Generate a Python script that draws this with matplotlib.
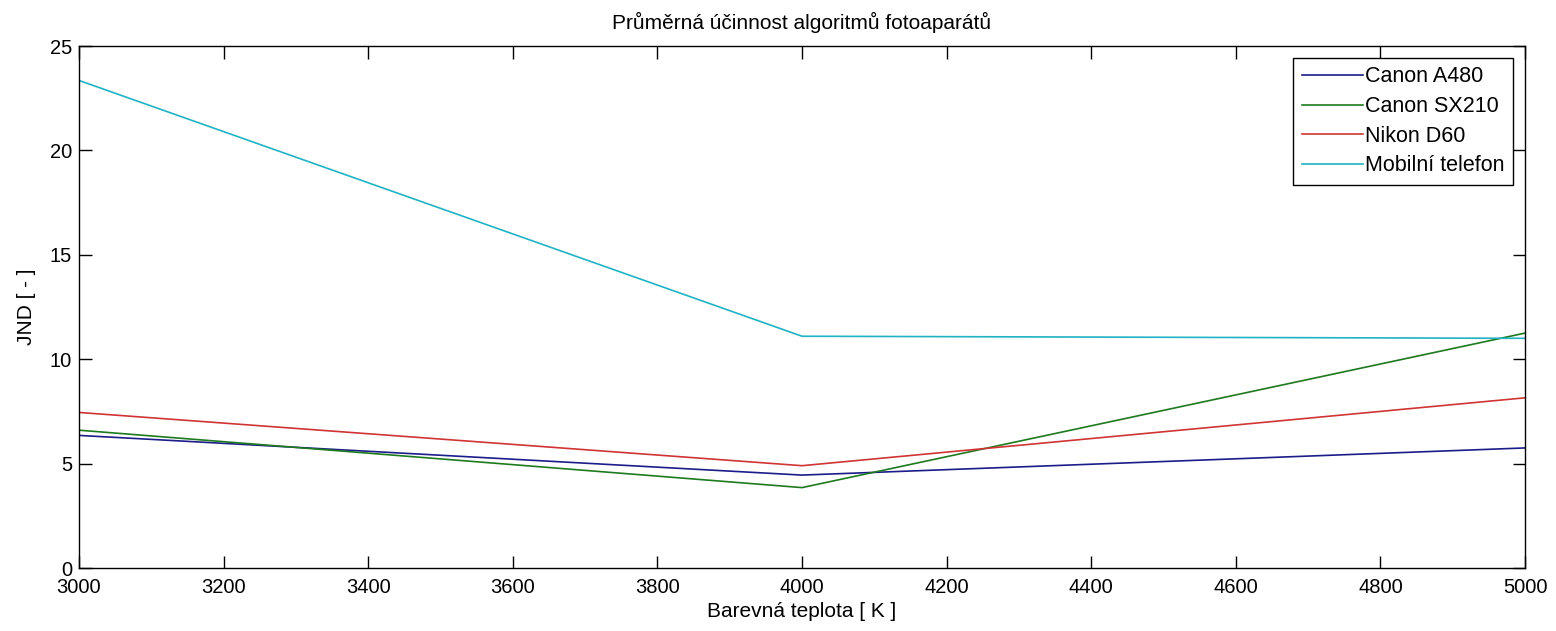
# Průměrná účinnost algoritmů fotoaparátů

import matplotlib
matplotlib.use("Agg")
import matplotlib.pyplot as plt

# Data
teplota = [3000, 4000, 5000]
canon_a480 = [6.35, 4.45, 5.75]
canon_sx210 = [6.6, 3.85, 11.25]
nikon_d60 = [7.45, 4.9, 8.15]
mobil = [23.35, 11.1, 11.0]

nazvy = ["Canon A480", "Canon SX210", "Nikon D60", "Mobilní telefon"]
barvy = ["#1c1c8a", "#1e7a1e", "#d03434", "#1fb3c4"]

plt.rcParams['font.family'] = ['Liberation Sans', 'DejaVu Sans']

fig = plt.figure(figsize=(15.56, 6.31), dpi=100)
ax = fig.add_axes([79 / 1556, 63 / 631, (1525 - 79) / 1556, (568 - 46) / 631])

for y, nazev, barva in zip([canon_a480, canon_sx210, nikon_d60, mobil], nazvy, barvy):
    ax.plot(teplota, y, color=barva, linewidth=1.2, label=nazev)

ax.set_xlim(3000, 5000)
ax.set_ylim(0, 25)
ax.set_xticks(range(3000, 5001, 200))
ax.set_yticks(range(0, 26, 5))
ax.tick_params(direction='in', length=9, width=1, top=True, right=True,
               labelsize=14.5)
ax.tick_params(axis='x', pad=7)
ax.tick_params(axis='y', pad=5)
for s in ax.spines.values():
    s.set_linewidth(1)

ax.set_title("Průměrná účinnost algoritmů fotoaparátů", fontsize=15, pad=12)
ax.set_xlabel("Barevná teplota [ K ]", fontsize=15, labelpad=4)
ax.set_ylabel("JND [ - ]", fontsize=15, labelpad=10)

leg = ax.legend(loc='upper right', fontsize=15.5, fancybox=False, framealpha=1,
                edgecolor='black', handlelength=2.85, handletextpad=0.1,
                labelspacing=0.4, borderaxespad=0.55, borderpad=0.4)
leg.get_frame().set_linewidth(1)

fig.savefig("out.png", dpi=100)
